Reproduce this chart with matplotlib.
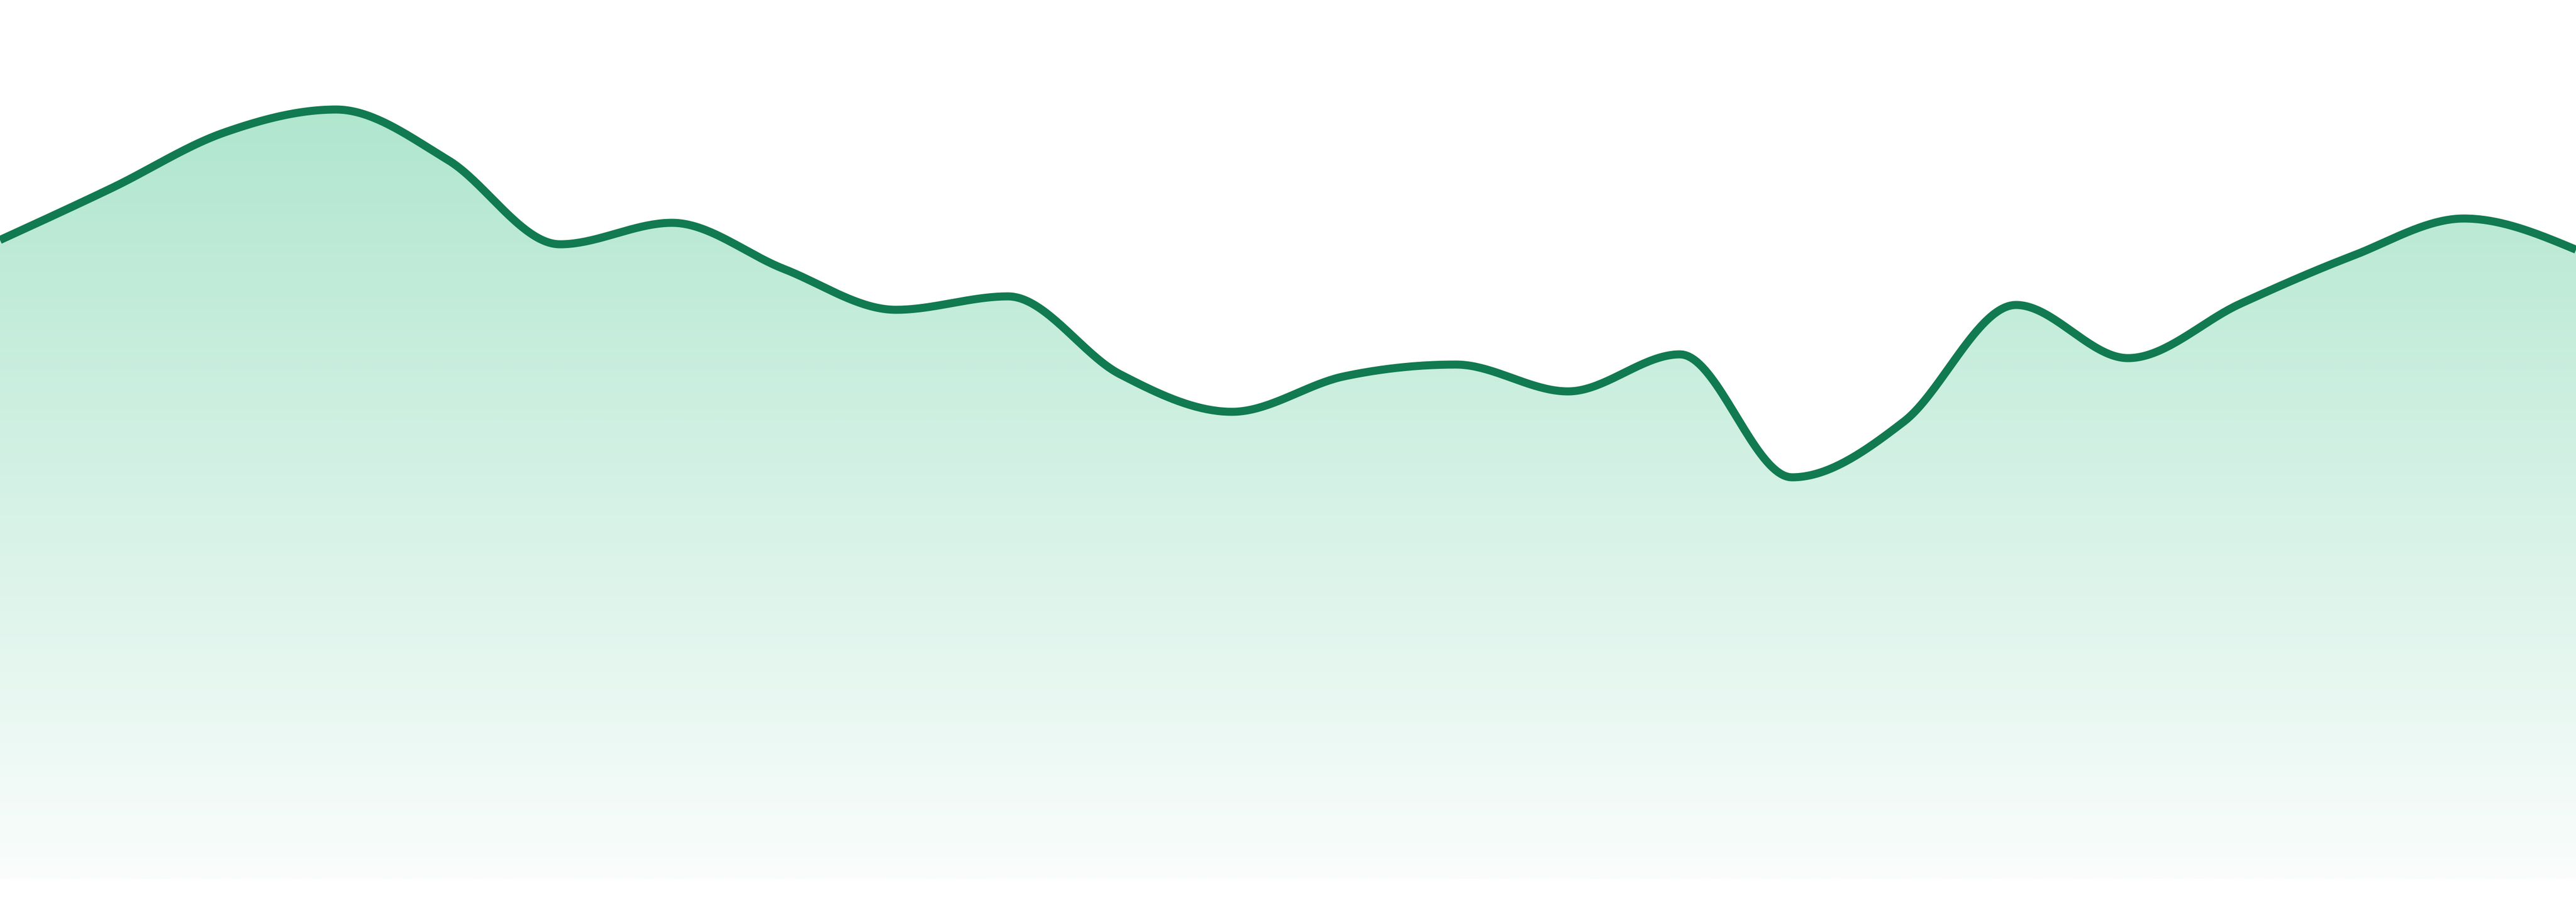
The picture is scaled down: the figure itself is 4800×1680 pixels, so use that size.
import numpy as np
import matplotlib
matplotlib.use("Agg")
import matplotlib.pyplot as plt
from matplotlib.colors import LinearSegmentedColormap

# data
x_index = list(range(24))
values = [119, 128.7, 139, 143.3, 133.9, 118.2, 122.2, 113.6, 106, 108.5, 94, 87,
          93.6, 95.8, 90.8, 97.7, 74.8, 85.2, 106.9, 97, 107.1, 116, 123, 117.2]

line_color = "#117a50"
fill_top = "#b0e6cf"
fill_bottom = "#fafdfc"


def monotone_x(xs, ys, n=40):
    xs = np.asarray(xs, float)
    ys = np.asarray(ys, float)
    h = np.diff(xs)
    s = np.diff(ys) / h
    m = np.zeros_like(ys)
    for i in range(1, len(xs) - 1):
        s0, s1 = s[i - 1], s[i]
        p = (s0 * h[i] + s1 * h[i - 1]) / (h[i - 1] + h[i])
        m[i] = (np.sign(s0) + np.sign(s1)) * min(abs(s0), abs(s1), 0.5 * abs(p))
    m[0] = (3 * s[0] - m[1]) / 2
    m[-1] = (3 * s[-1] - m[-2]) / 2
    px, py = [], []
    for i in range(len(xs) - 1):
        t = np.linspace(0, 1, n, endpoint=(i == len(xs) - 2))
        dx = h[i]
        x0, x3 = xs[i], xs[i + 1]
        y0, y3 = ys[i], ys[i + 1]
        x1, x2 = x0 + dx / 3, x3 - dx / 3
        y1, y2 = y0 + m[i] * dx / 3, y3 - m[i + 1] * dx / 3
        bx = (1 - t) ** 3 * x0 + 3 * (1 - t) ** 2 * t * x1 + 3 * (1 - t) * t ** 2 * x2 + t ** 3 * x3
        by = (1 - t) ** 3 * y0 + 3 * (1 - t) ** 2 * t * y1 + 3 * (1 - t) * t ** 2 * y2 + t ** 3 * y3
        px.append(bx)
        py.append(by)
    return np.concatenate(px), np.concatenate(py)


fig = plt.figure(figsize=(16, 5.6), dpi=300)
ax = fig.add_axes([0, 0, 1, 1])
ax.set_xlim(x_index[0], x_index[-1])
ax.set_ylim(-4.3, 163.7)
ax.axis("off")

cx, cy = monotone_x(x_index, values)

# gradient fill
poly = ax.fill_between(cx, 0, cy, color="none", linewidth=0)
cmap = LinearSegmentedColormap.from_list("g", [fill_bottom, fill_top])
grad = np.linspace(0, 1, 512).reshape(-1, 1)
img = ax.imshow(grad, cmap=cmap, aspect="auto", origin="lower",
                extent=[x_index[0], x_index[-1], 0, 143.7], zorder=1)
path = poly.get_paths()[0]
img.set_clip_path(path, transform=ax.transData)
ax.fill_between(cx, 143.7, np.maximum(cy, 143.7), color=fill_top, linewidth=0, zorder=1)

ax.plot(cx, cy, color=line_color, linewidth=3.6, solid_capstyle="butt", zorder=3)

fig.savefig("out.png", dpi=300, facecolor="white")
